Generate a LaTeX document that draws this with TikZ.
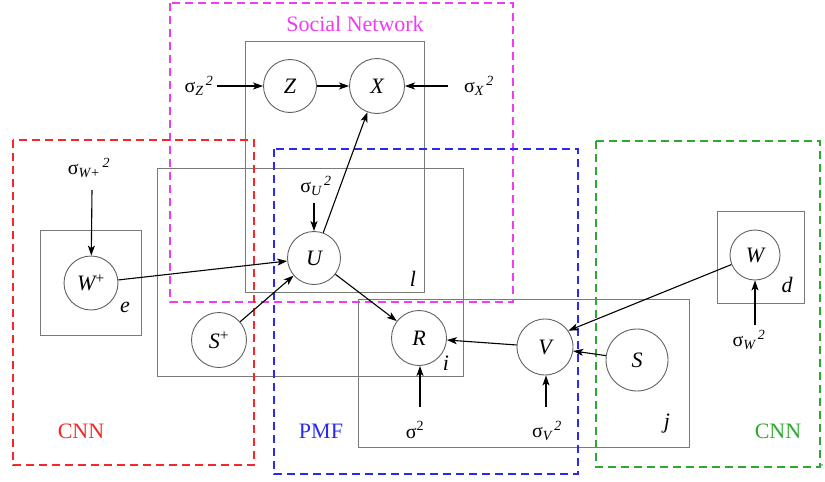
\documentclass[tikz,border=0pt]{standalone}
\usepackage{fontspec}
\setmainfont{Liberation Serif}
\usetikzlibrary{arrows.meta}
\definecolor{cmag}{HTML}{F03CF0}
\definecolor{cred}{HTML}{F52828}
\definecolor{cblue}{HTML}{2A2AEE}
\definecolor{cgreen}{HTML}{2DAA2D}
\definecolor{plategray}{HTML}{7A7A7A}
\newcommand\hyp[1]{σ\textsubscript{\itshape #1}\textsuperscript{\,\itshape 2}}
\begin{document}
\begin{tikzpicture}[x=1pt,y=-1pt,
  var/.style={circle,draw=black!62,line width=0.9pt,fill=white,inner sep=0pt,
    font=\fontsize{22}{22}\selectfont\itshape},
  plate/.style={draw=plategray,line width=1pt},
  region/.style={dash pattern=on 8pt off 5pt,line width=1.6pt},
  edge/.style={-{Stealth[length=10pt,width=7pt,inset=2.5pt]},line width=1.1pt},
  hyper/.style={inner sep=1pt,font=\fontsize{20}{20}\selectfont},
  platelbl/.style={inner sep=0pt,font=\fontsize{22}{22}\selectfont\itshape},
  title/.style={inner sep=0pt,font=\fontsize{22}{22}\selectfont}]
  \useasboundingbox (0,0) rectangle (825,482);

  % plates
  \draw[plate] (245,41) rectangle (424,292);
  \draw[plate] (157,168) rectangle (463,376);
  \draw[plate] (358,299) rectangle (689,447);
  \draw[plate] (40,230) rectangle (141,335);
  \draw[plate] (717,211) rectangle (804,303);

  % model regions
  \draw[region,cmag]   (170,3)   rectangle (513,302);
  \draw[region,cred]   (13,140)  rectangle (254,465);
  \draw[region,cblue]  (274,149) rectangle (578,474);
  \draw[region,cgreen] (596,141) rectangle (820,467);

  % region titles
  \node[title,text=cmag]   (tsn)  at (355,24)  {Social Network};
  \node[title,text=cred]   (tcnn1) at (81,431) {CNN};
  \node[title,text=cblue]  (tpmf) at (321,431) {PMF};
  \node[title,text=cgreen] (tcnn2) at (778,431) {CNN};

  % plate labels
  \node[platelbl] (ll) at (413,279) {l};
  \node[platelbl] (li) at (446,363) {i};
  \node[platelbl] (lj) at (667,424) {j};
  \node[platelbl] (ld) at (787,285) {d};
  \node[platelbl] (le) at (125,307) {e};

  % random variables
  \node[var,minimum size=53pt] (Z)  at (290,86)  {Z};
  \node[var,minimum size=55pt] (X)  at (377,86)  {X};
  \node[var,minimum size=53pt] (U)  at (314,258) {U};
  \node[var,minimum size=55pt] (R)  at (419,338) {R};
  \node[var,minimum size=56pt] (V)  at (545,347) {V};
  \node[var,minimum size=62pt] (S)  at (637,360) {S};
  \node[var,minimum size=50pt] (W)  at (755,255) {W};
  \node[var,minimum size=54pt] (Wp) at (91,283)  {W\textsuperscript{\upshape +}};
  \node[var,minimum size=55pt] (Sp) at (219,340) {S\textsuperscript{\upshape +}};

  % hyperparameters
  \node[hyper] (hz)  at (199,86)  {\hyp{Z}};
  \node[hyper] (hx)  at (479,86)  {\hyp{X}};
  \node[hyper] (hu)  at (316,186) {\hyp{U}};
  \node[hyper] (hwp) at (89,168)  {\hyp{W+}};
  \node[hyper] (hr)  at (415,430) {σ\textsuperscript{2}};
  \node[hyper] (hv)  at (547,431) {\hyp{V}};
  \node[hyper] (hw)  at (749,340) {\hyp{W}};

  \coordinate (az)  at (217,86);
  \coordinate (ax)  at (448,86);
  \coordinate (au)  at (314,203);
  \coordinate (awp) at (92,190);
  \coordinate (ar)  at (420,407);
  \coordinate (av)  at (546,407);
  \coordinate (aw)  at (755,325);

  % connectors
  \draw[edge] (az)  -- (Z);
  \draw[edge] (ax)  -- (X);
  \draw[edge] (au)  -- (U);
  \draw[edge] (awp) -- (Wp);
  \draw[edge] (ar)  -- (ar |- R.south);
  \draw[edge] (av)  -- (av |- V.south);
  \draw[edge] (aw)  -- (W);
  \draw[edge] (Z) -- (X);
  \draw[edge] (U) -- (X);
  \draw[edge] (Wp) -- (U);
  \draw[edge] (Sp) -- (U);
  \draw[edge] (U) -- (R);
  \draw[edge] (V) -- (R);
  \draw[edge] (W) -- (V.35);
  \draw[edge] (S) -- (V);

  \node[inner sep=0pt,font=\fontsize{8}{8}\selectfont] (cm) at (822,466) {,};
\end{tikzpicture}
\end{document}
